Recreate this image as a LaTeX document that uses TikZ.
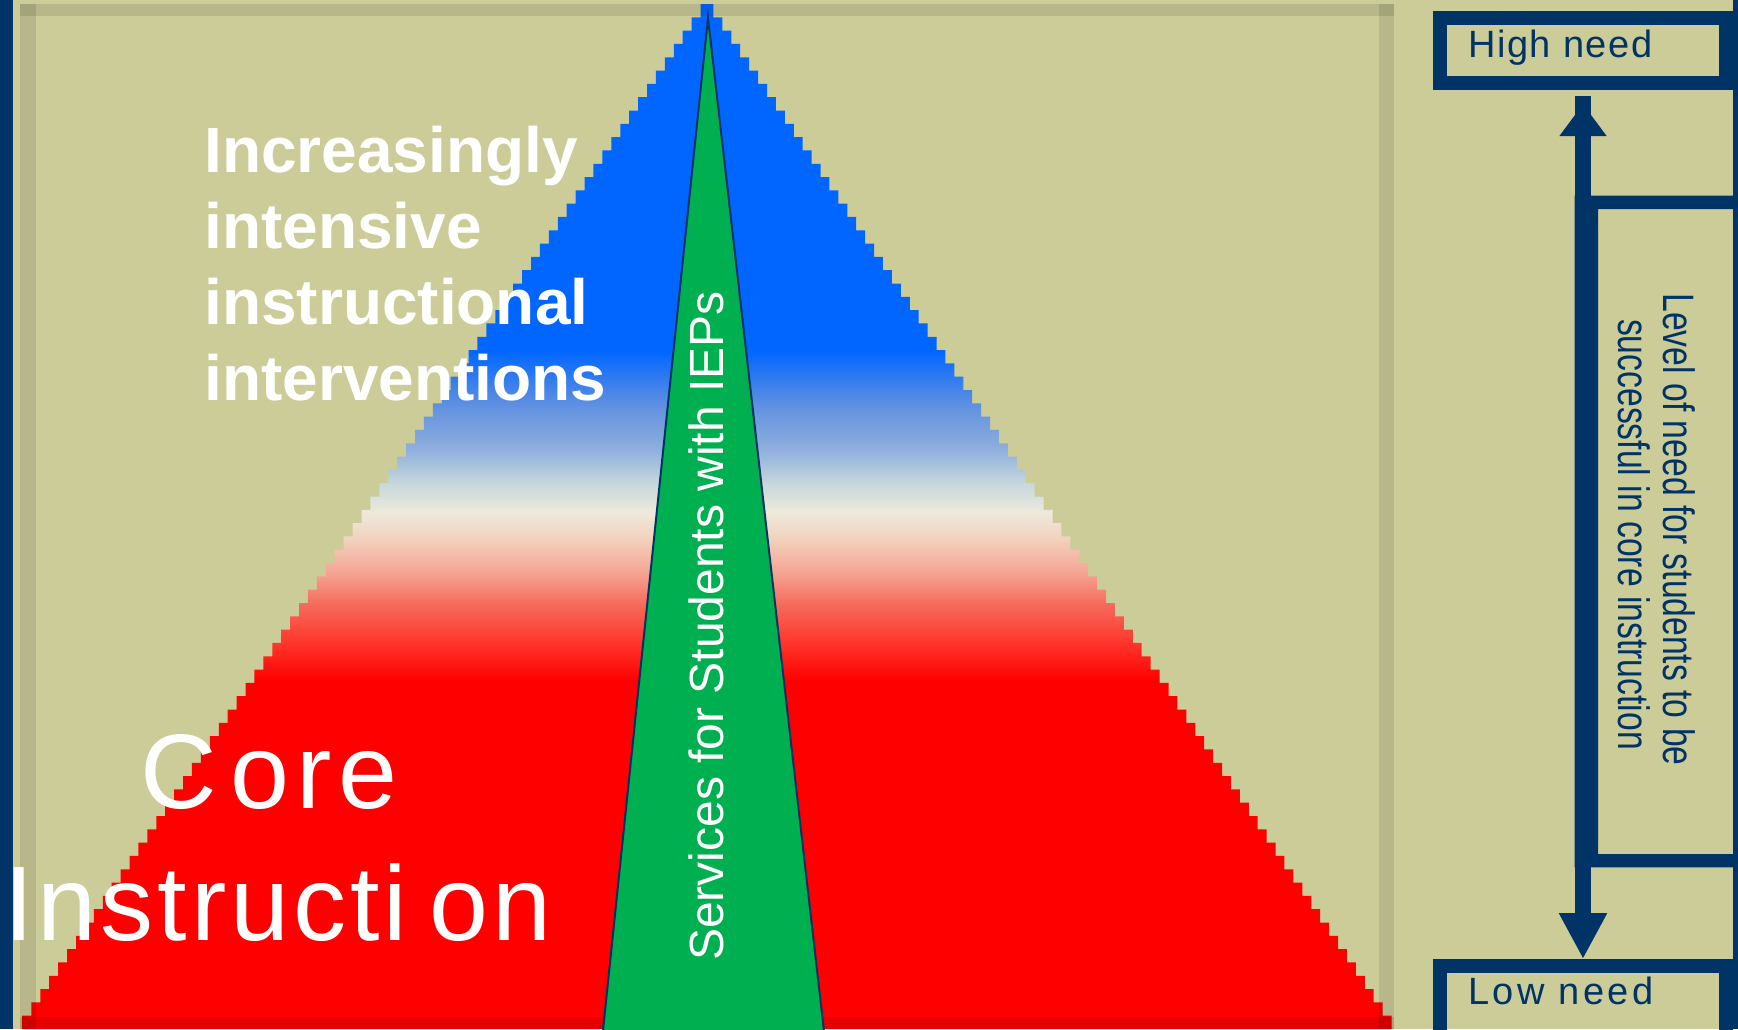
\documentclass[tikz,border=0pt]{standalone}
\usepackage{fontspec}
\setmainfont{Liberation Sans}
\newfontfamily\highfont[LetterSpace=4]{Liberation Sans}
\newfontfamily\lowfont[LetterSpace=9]{Liberation Sans}
\usetikzlibrary{arrows.meta}
\definecolor{khaki}{RGB}{204,204,153}
\definecolor{navy}{RGB}{0,51,102}
\definecolor{pblue}{HTML}{0066FF}
\definecolor{pgreen}{HTML}{00B050}
\definecolor{pred}{HTML}{FF0000}
\definecolor{g1}{HTML}{FF3A30}
\definecolor{g2}{HTML}{F56A5A}
\definecolor{g3}{HTML}{F5A090}
\definecolor{g4}{HTML}{F2D0BC}
\definecolor{g5}{HTML}{EEEADB}
\definecolor{g6}{HTML}{C8D8DC}
\definecolor{g7}{HTML}{90B0DD}
\definecolor{g8}{HTML}{5F90E0}
\pgfdeclareverticalshading{pyr}{100bp}{color(0bp)=(pred); color(42bp)=(pred); color(44bp)=(g1); color(45.7bp)=(g2); color(47.15bp)=(g3); color(48.85bp)=(g4); color(50.2bp)=(g5); color(51.55bp)=(g6); color(53.25bp)=(g7); color(55.45bp)=(g8); color(58.1bp)=(pblue); color(100bp)=(pblue)}
\tikzset{
  frameband/.style={fill=black, fill opacity=0.1},
  inc/.style={anchor=base west, inner sep=0pt, text=white, font=\bfseries\fontsize{32pt}{38pt}\selectfont},
  core/.style={anchor=base west, inner sep=0pt, text=white, font=\fontsize{53pt}{60pt}\selectfont},
  svc/.style={anchor=base, inner sep=0pt, text=white, rotate=90, font=\fontsize{24pt}{28pt}\selectfont},
  needbox/.style={draw=navy, line width=7pt, minimum width=143pt, inner sep=0pt},
  needlbl/.style={anchor=base west, inner sep=0pt, text=navy, font=\fontsize{19pt}{22pt}\selectfont},
  lvl/.style={anchor=base, inner sep=0pt, text=navy, rotate=-90, font=\fontsize{22pt}{24pt}\selectfont},
  arrowline/.style={draw=navy, line width=8pt}
}
\begin{document}
\begin{tikzpicture}[x=0.5pt,y=-0.5pt]
\useasboundingbox (0,0) rectangle (1738,1029);
\fill[khaki] (0,0) rectangle (1738,1029);
\fill[navy] (0,0) rectangle (13,1029);
\fill[navy] (1733,0) rectangle (1738,1029);
% pyramid (stepped edge)
\begin{scope}
\clip (707,4)
  \foreach \k in {0,...,76} { -- ({707-(\k+0.5)*8.922-2},{4+\k*13.312}) -- ({707-(\k+0.5)*8.922-2},{4+(\k+1)*13.312}) }
  \foreach \k in {76,...,0} { -- ({707+(\k+0.5)*8.922+2},{4+(\k+1)*13.312}) -- ({707+(\k+0.5)*8.922+2},{4+\k*13.312}) }
  -- cycle;
\shade[shading=pyr] (0,4) rectangle (1738,1029);
\end{scope}
% frame bands
\fill[frameband] (20,4) rectangle (1394,16);
\fill[frameband] (20,4) rectangle (36,1029);
\fill[frameband] (1379,4) rectangle (1394,1029);
\fill[frameband] (20,1017) rectangle (1394,1029);
% green wedge
\filldraw[fill=pgreen, draw=navy, line width=1pt] (708,18) -- (825,1040) -- (602,1040) -- cycle;
\node[svc] (svc) at (723,626) {Services for Students with IEPs};
% left texts
\node[inc] (inc1) at (204,172) {Increasingly};
\node[inc] (inc2) at (204,248) {intensive};
\node[inc] (inc3) at (204,324) {instructional};
\node[inc] (inc4) at (204,400) {interventions};
\node[core] (core) at (140,808) {C\kern7pt o\kern3.5pt r\kern3pt e};
\node[core] (instr) at (4,940) {I\kern2pt n\kern2pt s\kern2pt t\kern2pt r\kern2pt u\kern2pt c\kern2pt t\kern2pt i\kern11pt o\kern2pt n};
% right side
\node[needbox, minimum height=32.5pt] (high) at (1582.5,50) {};
\node[needbox, minimum height=45pt] (low) at (1582.5,1011) {};
\node[needlbl] (hightxt) at (1468,57) {\highfont High need};
\node[needlbl] (lowtxt) at (1468,1004) {\lowfont Low need};
\node[inner sep=0pt, minimum width=82.5pt, minimum height=335.5pt] (mid) at (1657.5,531.5) {};
\fill[navy, even odd rule] (mid.north west) rectangle (mid.south east) (1598,209) rectangle (1733,854);
\node[lvl] (lvl1) at (1663,529.5) {\scalebox{0.766}[1]{Level of need for students to be}};
\node[lvl] (lvl2) at (1618,534.5) {\scalebox{0.766}[1]{successful in core instruction}};
\coordinate (ax) at (1583,0);
\draw[arrowline, shorten >=3.25pt] (ax |- mid.north) -- (ax |- high.south);
\draw[arrowline, -{Triangle[width=22.5pt,length=16pt]}, shorten >=7.25pt] (ax |- mid.north) -- (ax |- high.south);
\draw[arrowline, -{Triangle[width=22.5pt,length=23pt]}] (ax |- mid.south) -- (ax |- low.north);
\end{tikzpicture}
\end{document}
